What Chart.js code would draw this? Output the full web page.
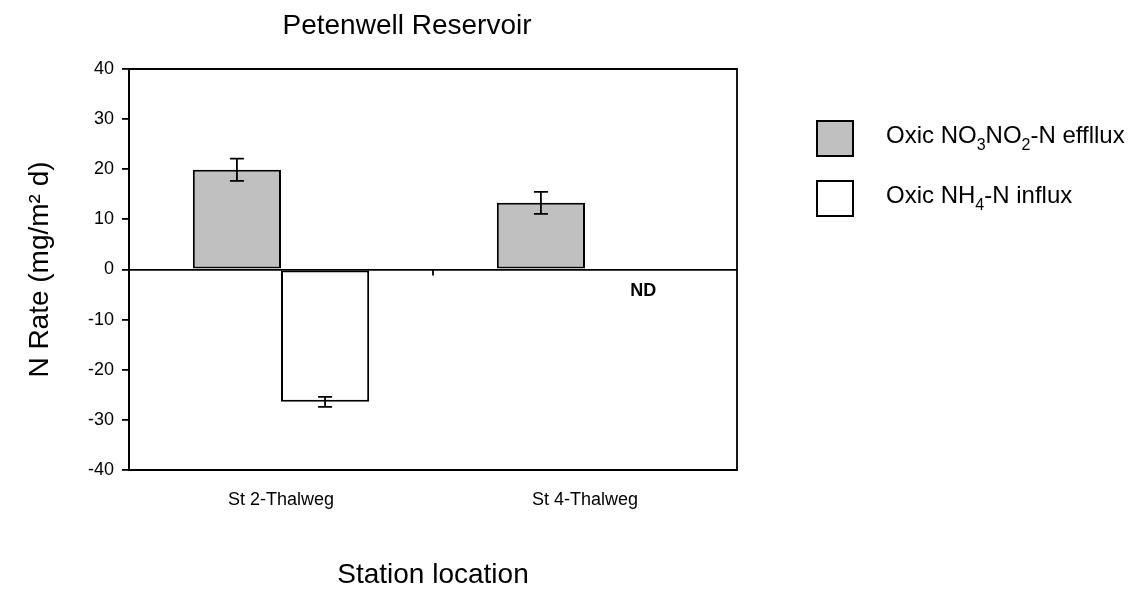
<!DOCTYPE html>
<html>
<head>
<meta charset="utf-8">
<script src="https://cdn.jsdelivr.net/npm/chart.js@4.4.0/dist/chart.umd.min.js"></script>
<style>
  html, body { margin: 0; padding: 0; background: #fff; }
  #wrap { width: 1136px; height: 590px; }
</style>
</head>
<body>
<div id="wrap"><canvas id="grafico"></canvas></div>
<script>
// datos
var estaciones = ['St 2-Thalweg', 'St 4-Thalweg'];
var no3Valores = [19.9, 13.3];   // Oxic NO3NO2-N efflux
var no3Errores = [2.2, 2.2];
var nh4Valores = [-26.4, null];  // Oxic NH4-N influx (St 4 = ND)
var nh4Errores = [1.0, null];
var sinDatos = ['', 'ND'];
var yMin = -40, yMax = 40, yPaso = 10;

var fuente = '"Liberation Sans", Arial, Helvetica, sans-serif';

// texto con subindices, partes: [texto, esSub]
function textoSub(ctx, partes, x, y, tam) {
    var cx = x;
    partes.forEach(function (p) {
        if (p[1]) {
            ctx.font = Math.round(tam * 0.65) + 'px ' + fuente;
            ctx.fillText(p[0], cx, y + tam * 0.28);
        } else {
            ctx.font = tam + 'px ' + fuente;
            ctx.fillText(p[0], cx, y);
        }
        cx += ctx.measureText(p[0]).width;
    });
}

var extras = {
    id: 'extras',
    afterDatasetsDraw: function (chart) {
        var ctx = chart.ctx;
        var a = chart.chartArea;
        var ys = chart.scales.y;
        var xs = chart.scales.x;
        ctx.save();
        ctx.strokeStyle = '#000';
        ctx.lineWidth = 1.8;

        // barras de error
        [[0, no3Valores, no3Errores], [1, nh4Valores, nh4Errores]].forEach(function (d) {
            var meta = chart.getDatasetMeta(d[0]);
            d[1].forEach(function (v, i) {
                if (v === null || d[2][i] === null) return;
                var bx = meta.data[i].x;
                var y1 = ys.getPixelForValue(v + d[2][i]);
                var y2 = ys.getPixelForValue(v - d[2][i]);
                ctx.beginPath();
                ctx.moveTo(bx, y1); ctx.lineTo(bx, y2);
                ctx.moveTo(bx - 7, y1); ctx.lineTo(bx + 7, y1);
                ctx.moveTo(bx - 7, y2); ctx.lineTo(bx + 7, y2);
                ctx.stroke();
            });
        });

        // marca entre categorias sobre la linea cero
        var y0 = ys.getPixelForValue(0);
        for (var i = 1; i < estaciones.length; i++) {
            var mx = (xs.getPixelForValue(i - 1) + xs.getPixelForValue(i)) / 2;
            ctx.beginPath();
            ctx.moveTo(mx, y0); ctx.lineTo(mx, y0 + 6);
            ctx.stroke();
        }

        // marco superior y derecho
        ctx.beginPath();
        ctx.moveTo(a.left, a.top); ctx.lineTo(a.right, a.top); ctx.lineTo(a.right, a.bottom);
        ctx.stroke();

        // ND
        var ancho = chart.getDatasetMeta(0).data[0].width;
        ctx.fillStyle = '#000';
        ctx.font = 'bold 18px ' + fuente;
        ctx.textAlign = 'center';
        ctx.textBaseline = 'middle';
        sinDatos.forEach(function (t, i) {
            if (!t) return;
            ctx.fillText(t, xs.getPixelForValue(i) + ancho * 0.66, y0 + 22);
        });
        ctx.restore();
    },
    afterDraw: function (chart) {
        var ctx = chart.ctx;
        ctx.save();
        ctx.fillStyle = '#000';
        ctx.textBaseline = 'alphabetic';

        // titulo
        ctx.font = '28px ' + fuente;
        ctx.textAlign = 'center';
        ctx.fillText('Petenwell Reservoir', 407, 34);

        // leyenda
        ctx.textAlign = 'left';
        ctx.lineWidth = 2;
        ctx.strokeStyle = '#000';
        ctx.fillStyle = '#c0c0c0';
        ctx.fillRect(817, 121, 36, 35);
        ctx.strokeRect(817, 121, 36, 35);
        ctx.fillStyle = '#fff';
        ctx.fillRect(817, 181, 36, 35);
        ctx.strokeRect(817, 181, 36, 35);
        ctx.fillStyle = '#000';
        textoSub(ctx, [['Oxic NO', false], ['3', true], ['NO', false], ['2', true], ['-N effllux', false]], 886, 143, 24);
        textoSub(ctx, [['Oxic NH', false], ['4', true], ['-N influx', false]], 886, 203, 24);
        ctx.restore();
    }
};

var datos = {
    labels: estaciones,
    datasets: [
        {
            label: 'Oxic NO3NO2-N effllux',
            data: no3Valores,
            backgroundColor: '#c0c0c0',
            borderColor: '#000',
            borderWidth: 2,
            borderSkipped: false
        },
        {
            label: 'Oxic NH4-N influx',
            data: nh4Valores,
            backgroundColor: '#ffffff',
            borderColor: '#000',
            borderWidth: 2,
            borderSkipped: false
        }
    ]
};

var opciones = {
    responsive: true,
    maintainAspectRatio: false,
    animation: false,
    layout: { padding: { top: 69, right: 399, bottom: 0, left: 0 } },
    datasets: { bar: { barPercentage: 1, categoryPercentage: 0.58 } },
    plugins: {
        legend: { display: false },
        title: { display: false },
        tooltip: { enabled: false }
    },
    scales: {
        x: {
            afterFit: function (s) { s.height = 120; },
            grid: { display: false, drawTicks: false },
            border: { display: true, color: '#000', width: 2 },
            ticks: { color: '#000', padding: 19, font: { family: fuente, size: 18 } },
            title: {
                display: true,
                text: 'Station location',
                color: '#000',
                font: { family: fuente, size: 28 },
                padding: { top: 0, bottom: -2 }
            }
        },
        y: {
            min: yMin,
            max: yMax,
            afterFit: function (s) { s.width = 129; },
            ticks: { stepSize: yPaso, color: '#000', padding: 8, font: { family: fuente, size: 18 } },
            grid: {
                drawOnChartArea: true,
                tickLength: 7,
                tickColor: '#000',
                tickWidth: 1.8,
                color: function (c) { return c.tick && c.tick.value === 0 ? '#000' : 'rgba(0,0,0,0)'; },
                lineWidth: 1.8
            },
            border: { display: true, color: '#000', width: 2 },
            title: {
                display: true,
                text: 'N Rate (mg/m² d)',
                color: '#000',
                font: { family: fuente, size: 28 },
                padding: { top: 23, bottom: 0 }
            }
        }
    }
};

var contexto = document.getElementById('grafico').getContext('2d');
var grafico = new Chart(contexto, {
    type: 'bar',
    data: datos,
    options: opciones,
    plugins: [extras]
});
</script>
</body>
</html>
